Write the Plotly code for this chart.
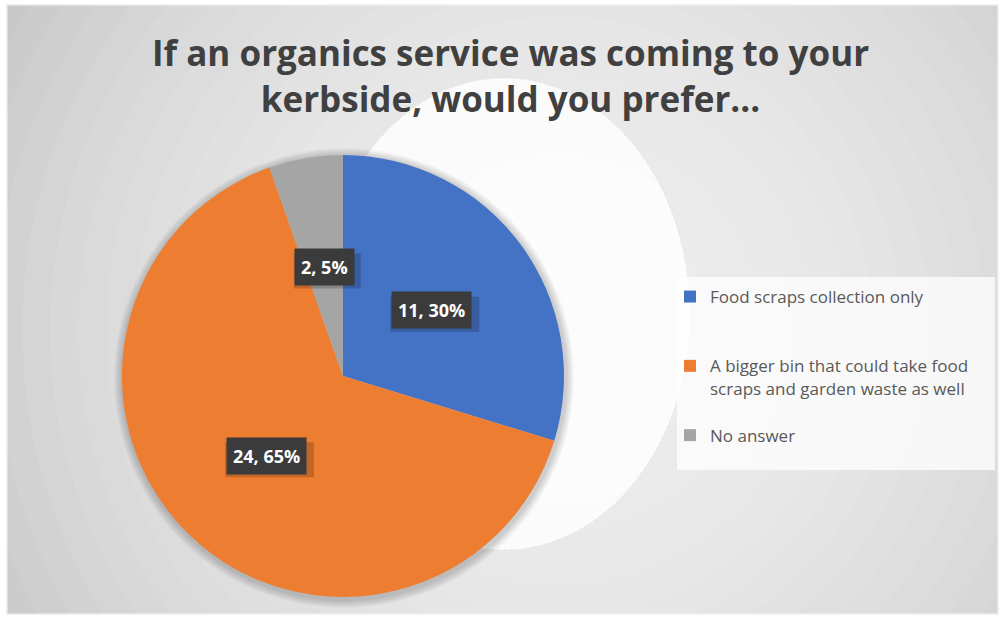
import plotly.graph_objects as go
import math

# ---- data ----
categories = ["Food scraps collection only",
              "A bigger bin that could take food scraps and garden waste as well",
              "No answer"]
legend_labels = ["Food scraps collection only<br> <br> ",
                 "A bigger bin that could take food<br>scraps and garden waste as well<br> ",
                 "No answer"]
counts = [11, 24, 2]
colors = ["#4472C4", "#ED7D31", "#A5A5A5"]
title_text = "If an organics service was coming to your<br>kerbside, would you prefer..."

W, H = 1002, 618
def fx(x): return x / W
def fy(y): return 1 - y / H

# pie geometry (pixels)
CX, CY, R = 343, 376, 221

fig = go.Figure()
fig.add_trace(go.Pie(
    labels=legend_labels, values=counts, sort=False, direction="clockwise", rotation=0,
    marker=dict(colors=colors, line=dict(width=0)),
    textinfo="none", hoverinfo="label+value+percent",
    domain=dict(x=[fx(CX - R), fx(CX + R)], y=[fy(CY + R), fy(CY - R)]),
    showlegend=True,
))

shapes = []
# outer frame / grey background
shapes.append(dict(type="rect", xref="paper", yref="paper", x0=fx(7), x1=fx(998), y0=fy(614), y1=fy(5),
                   fillcolor="#c4c4c4", line=dict(color="#e6e6e6", width=1.5), layer="below"))
# radial highlight approximation
GX, GY = 560, 330
n = 22
for i in range(n):
    r = 650 - i * 28
    shapes.append(dict(type="circle", xref="paper", yref="paper",
                       x0=fx(GX - r), x1=fx(GX + r), y0=fy(GY + r), y1=fy(GY - r),
                       fillcolor="white", opacity=0.075, line=dict(width=0), layer="below"))
# white blob
shapes.append(dict(type="circle", xref="paper", yref="paper",
                   x0=fx(318), x1=fx(690), y0=fy(550), y1=fy(78),
                   fillcolor="white", opacity=0.85, line=dict(color="#dddddd", width=0.6, dash="dot"), layer="below"))
# pie shadow
for i in range(8):
    r = R + 9 - i
    shapes.append(dict(type="circle", xref="paper", yref="paper",
                       x0=fx(CX - r + 1), x1=fx(CX + r + 1), y0=fy(CY + r + 2), y1=fy(CY - r + 2),
                       fillcolor="black", opacity=0.025, line=dict(width=0), layer="below"))
# legend box
shapes.append(dict(type="rect", xref="paper", yref="paper", x0=fx(677), x1=fx(995), y0=fy(470), y1=fy(277),
                   fillcolor="white", opacity=0.75, line=dict(width=0), layer="below"))

# data labels (dark boxes) at half radius along each slice's mid-angle
annotations = []
total = sum(counts)
cum = 0
for v in counts:
    mid = (cum + v / 2) / total * 2 * math.pi
    cum += v
    lx = CX + 0.5 * R * math.sin(mid)
    ly = CY - 0.5 * R * math.cos(mid)
    label = f"{v}, {round(v / total * 100)}%"
    bw, bh = 11 * len(label) + 12, 35
    # soft drop shadow of the label box
    shapes.append(dict(type="rect", xref="paper", yref="paper",
                       x0=fx(lx - bw / 2 + 3), x1=fx(lx + bw / 2 + 3),
                       y0=fy(ly + bh / 2 + 4), y1=fy(ly - bh / 2 + 4),
                       fillcolor="black", opacity=0.18, line=dict(width=0), layer="above"))
    annotations.append(dict(x=fx(lx), y=fy(ly), xref="paper", yref="paper", text=f"<b>{label}</b>",
                            xanchor="center", yanchor="middle",
                            showarrow=False, font=dict(family="Open Sans", size=18, color="white"),
                            bgcolor="#3b3b3b", borderpad=6))

# title
annotations.append(dict(x=fx(510), y=fy(27), xref="paper", yref="paper", xanchor="center", yanchor="top",
                        text=f"<b>{title_text}</b>", showarrow=False, align="center",
                        font=dict(family="Open Sans", size=35, color="#404040")))

fig.update_layout(
    width=W, height=H,
    margin=dict(l=0, r=0, t=0, b=0),
    paper_bgcolor="white", plot_bgcolor="white",
    legend=dict(x=fx(670), y=fy(279), xanchor="left", yanchor="top", valign="top",
                bgcolor="rgba(0,0,0,0)", font=dict(family="Open Sans", size=17, color="#595959"),
                itemwidth=30, traceorder="normal"),
    shapes=shapes, annotations=annotations,
)

fig.write_html("out.html", config={"displayModeBar": False},
               post_script="document.body.style.margin='0px';")
